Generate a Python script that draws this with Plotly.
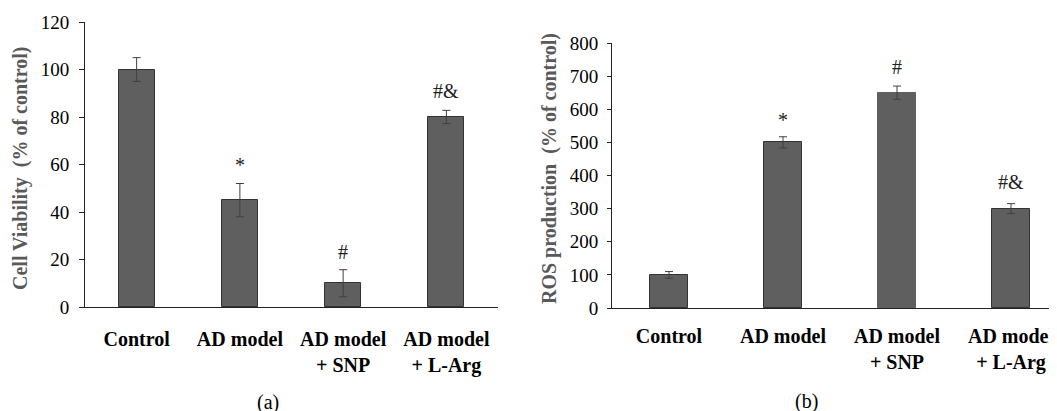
import plotly.graph_objects as go

# The page body adds an 8px margin, so the figure is drawn 8px smaller and
# all reference pixel positions are shifted by that offset.
OFF = 8
W, H = 1057 - OFF, 411 - OFF

categories = ["Control", "AD model", "AD model + SNP", "AD model + L-Arg"]
tick_labels = ["Control", "AD model", "AD model<br>+ SNP", "AD model<br>+ L-Arg"]

viability = [100, 45, 10, 80]
viability_err = [5, 7, 5.7, 2.8]
viability_marks = ["", "*", "#", "#&"]
viability_mark_y = [None, 60, 23, 91]

ros = [100, 500, 650, 300]
ros_err = [10, 17, 20, 15]
ros_marks = ["", "*", "#", "#&"]
ros_mark_y = [None, 569, 728, 380]

FONT = "Liberation Serif, Times New Roman, serif"
BAR = "#5f5f5f"
EDGE = "#333333"
ERR = "#404040"

fig = go.Figure()
xs = list(range(len(categories)))

fig.add_trace(go.Bar(
    x=xs, y=viability, width=0.35,
    marker=dict(color=BAR, line=dict(color=EDGE, width=1)),
    error_y=dict(type="data", array=viability_err, color=ERR, thickness=1, width=4),
    xaxis="x", yaxis="y", showlegend=False))

fig.add_trace(go.Bar(
    x=xs, y=ros, width=0.34,
    marker=dict(color=BAR, line=dict(color=[EDGE, EDGE, BAR, EDGE], width=1)),
    error_y=dict(type="data", array=ros_err, color=ERR, thickness=1, width=4),
    xaxis="x2", yaxis="y2", showlegend=False))

def px_x(p):
    return (p - OFF) / W

def px_y(p):
    return 1 - (p - OFF) / H

axis_common = dict(showgrid=False, zeroline=False, showline=True, linecolor="#222222",
                   linewidth=1, automargin=False)

fig.update_layout(
    width=W, height=H,
    margin=dict(l=0, r=0, t=0, b=0, autoexpand=False),
    paper_bgcolor="white", plot_bgcolor="white",
    font=dict(family=FONT, color="black", size=19),
    bargap=0,
    xaxis=dict(domain=[px_x(85), px_x(498)], range=[-0.5, 3.5], anchor="y",
               tickmode="array", tickvals=xs, ticktext=tick_labels, ticks="",
               tickfont=dict(family=FONT, size=20, color="black", weight="bold"),
               ticklabelstandoff=14, **axis_common),
    yaxis=dict(domain=[px_y(307), px_y(22)], range=[0, 120], anchor="x",
               tickmode="array", tickvals=[0, 20, 40, 60, 80, 100, 120],
               ticks="outside", ticklen=5, tickcolor="#222222",
               tickfont=dict(family=FONT, size=19, color="black"),
               ticklabelstandoff=6, **axis_common),
    xaxis2=dict(domain=[px_x(612), 1.0], range=[-0.5, -0.5 + 445 / 114], anchor="y2",
                tickmode="array", tickvals=xs, ticktext=tick_labels, ticks="",
                tickfont=dict(family=FONT, size=20, color="black", weight="bold"),
                ticklabelstandoff=10, **axis_common),
    yaxis2=dict(domain=[px_y(308), px_y(43)], range=[0, 800], anchor="x2",
                tickmode="array", tickvals=[0, 100, 200, 300, 400, 500, 600, 700, 800],
                ticks="outside", ticklen=4, tickcolor="#222222",
                tickfont=dict(family=FONT, size=19, color="black"),
                ticklabelstandoff=5, **axis_common),
)

annotations = []
for i, (m, yv) in enumerate(zip(viability_marks, viability_mark_y)):
    if m:
        annotations.append(dict(x=i, y=yv, xref="x", yref="y", text=m, showarrow=False,
                                font=dict(family=FONT, size=20, color="#222222"),
                                xanchor="center", yanchor="middle"))
for i, (m, yv) in enumerate(zip(ros_marks, ros_mark_y)):
    if m:
        annotations.append(dict(x=i, y=yv, xref="x2", yref="y2", text=m, showarrow=False,
                                font=dict(family=FONT, size=20, color="#222222"),
                                xanchor="center", yanchor="middle"))

annotations.append(dict(x=px_x(20), y=px_y(168), xref="paper", yref="paper",
                        text="<b>Cell Viability  (% of control)</b>", textangle=-90,
                        showarrow=False, font=dict(family=FONT, size=20, color="#595959"),
                        xanchor="center", yanchor="middle"))
annotations.append(dict(x=px_x(549), y=px_y(169), xref="paper", yref="paper",
                        text="<b>ROS production  (% of control)</b>", textangle=-90,
                        showarrow=False, font=dict(family=FONT, size=20, color="#595959"),
                        xanchor="center", yanchor="middle"))
annotations.append(dict(x=px_x(268), y=px_y(402), xref="paper", yref="paper",
                        text="(a)", showarrow=False,
                        font=dict(family=FONT, size=20, color="black"),
                        xanchor="center", yanchor="middle"))
annotations.append(dict(x=px_x(806), y=px_y(401), xref="paper", yref="paper",
                        text="(b)", showarrow=False,
                        font=dict(family=FONT, size=20, color="black"),
                        xanchor="center", yanchor="middle"))

fig.update_layout(annotations=annotations)

fig.write_html("out.html")
